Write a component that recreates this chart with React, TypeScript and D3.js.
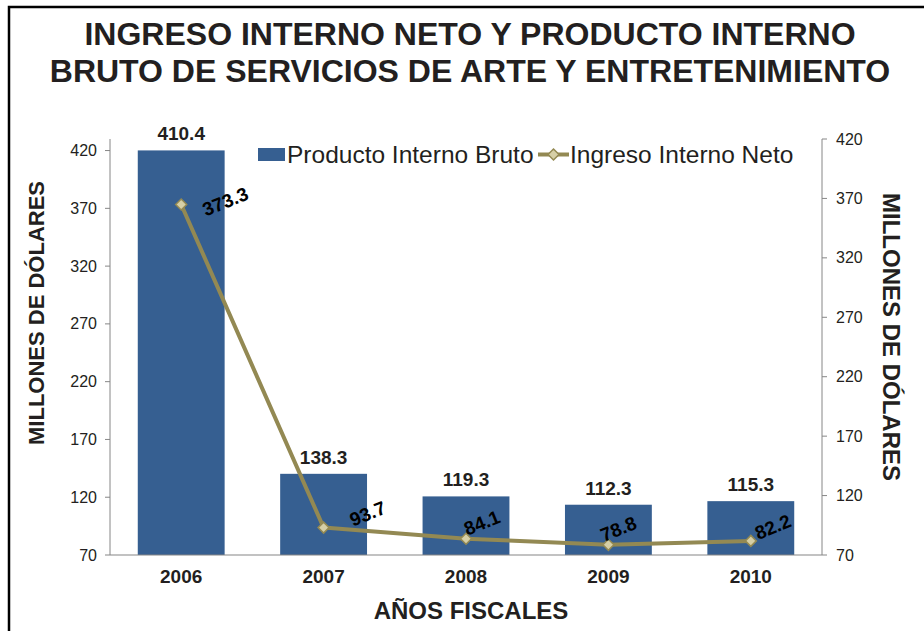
import React from "react";
import * as d3 from "d3";

const years = ["2006", "2007", "2008", "2009", "2010"];
const pibValues = [410.4, 138.3, 119.3, 112.3, 115.3];
const ingresoValues = [373.3, 93.7, 84.1, 78.8, 82.2];
const leftTicks = [70, 120, 170, 220, 270, 320, 370, 420];
const rightTicks = [70, 120, 170, 220, 270, 320, 370, 420];

const titleLines = [
  "INGRESO INTERNO NETO Y PRODUCTO INTERNO",
  "BRUTO DE SERVICIOS DE ARTE Y ENTRETENIMIENTO",
];
const yTitle = "MILLONES DE DÓLARES";
const xTitle = "AÑOS FISCALES";
const legendBar = "Producto Interno Bruto";
const legendLine = "Ingreso Interno Neto";

// label placement offsets (layout, in px) for line labels
const lineLabelOffsets: [number, number][] = [
  [44, -3],
  [44, -14],
  [16, -16],
  [10, -16],
  [22, -14],
];

const W = 924;
const H = 631;
const plotLeft = 110;
const plotRight = 822;
const plotTop = 139;
const plotBottom = 555;

const FONT = "'Liberation Sans', Arial, Helvetica, sans-serif";
const BAR = "#365F91";
const LINE = "#938953";
const MARK_FILL = "#D6CFA6";
const AXIS = "#868686";
const TEXT = "#231F20";

export default function App() {
  const x = d3.scaleBand<string>().domain(years).range([plotLeft, plotRight]).paddingInner(0.39).paddingOuter(0.195);
  const yLeft = d3.scaleLinear().domain([70, 430]).range([plotBottom, plotTop]);
  const yRight = d3.scaleLinear().domain([70, 420]).range([plotBottom, plotTop]);

  const line = d3
    .line<number>()
    .x((_, i) => (x(years[i]) as number) + x.bandwidth() / 2)
    .y((d) => yLeft(d));

  const diamond = (cx: number, cy: number, r: number) =>
    `M${cx},${cy - r}L${cx + r},${cy}L${cx},${cy + r}L${cx - r},${cy}Z`;

  return (
    <svg
      width={W}
      height={H}
      style={{ position: "absolute", left: 0, top: 0, background: "#fff" }}
      fontFamily={FONT}
    >
      <rect x={0} y={0} width={W} height={H} fill="#fff" />
      {/* frame */}
      <path d={`M9,${H + 10}V7H${W + 10}`} fill="none" stroke="#000" strokeWidth={2.5} />

      {/* title */}
      {titleLines.map((t, i) => (
        <text
          key={i}
          x={470}
          y={45 + i * 37}
          textAnchor="middle"
          fontSize={32}
          fontWeight="bold"
          fill={TEXT}
        >
          {t}
        </text>
      ))}

      {/* bars */}
      {pibValues.map((v, i) => (
        <rect
          key={i}
          x={x(years[i]) as number}
          y={yRight(v)}
          width={x.bandwidth()}
          height={plotBottom - yRight(v)}
          fill={BAR}
        />
      ))}
      {pibValues.map((v, i) => (
        <text
          key={"bl" + i}
          x={(x(years[i]) as number) + x.bandwidth() / 2}
          y={yRight(v) - 10}
          textAnchor="middle"
          fontSize={19}
          fontWeight="bold"
          fill={TEXT}
        >
          {v.toFixed(1)}
        </text>
      ))}

      {/* axes */}
      <line x1={plotLeft} x2={plotLeft} y1={plotTop} y2={plotBottom} stroke={AXIS} strokeWidth={1} />
      <line x1={plotRight} x2={plotRight} y1={plotTop} y2={plotBottom} stroke={AXIS} strokeWidth={1} />
      <line x1={plotLeft} x2={plotRight} y1={plotBottom} y2={plotBottom} stroke={AXIS} strokeWidth={1.2} />
      {leftTicks.map((t) => (
        <g key={"lt" + t}>
          <line x1={plotLeft - 5} x2={plotLeft} y1={yLeft(t)} y2={yLeft(t)} stroke={AXIS} />
          <text x={97} y={yLeft(t)} dy="0.35em" textAnchor="end" fontSize={16} fill={TEXT}>
            {t}
          </text>
        </g>
      ))}
      {rightTicks.map((t) => (
        <g key={"rt" + t}>
          <line x1={plotRight} x2={plotRight + 5} y1={yRight(t)} y2={yRight(t)} stroke={AXIS} />
          <text x={836} y={yRight(t)} dy="0.35em" textAnchor="start" fontSize={16} fill={TEXT}>
            {t}
          </text>
        </g>
      ))}
      {years.map((yr) => (
        <text
          key={"xt" + yr}
          x={(x(yr) as number) + x.bandwidth() / 2}
          y={583}
          textAnchor="middle"
          fontSize={19}
          fontWeight="bold"
          fill={TEXT}
        >
          {yr}
        </text>
      ))}

      {/* axis titles */}
      <text
        transform={`translate(36,313) rotate(-90)`}
        textAnchor="middle"
        dy="0.35em"
        fontSize={22}
        fontWeight="bold"
        fill={TEXT}
      >
        {yTitle}
      </text>
      <text
        transform={`translate(891,337) rotate(90)`}
        textAnchor="middle"
        dy="0.35em"
        fontSize={24}
        fontWeight="bold"
        fill={TEXT}
      >
        {yTitle}
      </text>
      <text x={471} y={619} textAnchor="middle" fontSize={24} fontWeight="bold" fill={TEXT}>
        {xTitle}
      </text>

      {/* line series */}
      <path d={line(ingresoValues) || ""} fill="none" stroke={LINE} strokeWidth={4} strokeLinejoin="round" />
      {ingresoValues.map((v, i) => {
        const cx = (x(years[i]) as number) + x.bandwidth() / 2;
        const cy = yLeft(v);
        return (
          <path key={"m" + i} d={diamond(cx, cy, 5.5)} fill={MARK_FILL} stroke={LINE} strokeWidth={1.5} />
        );
      })}
      {ingresoValues.map((v, i) => {
        const cx = (x(years[i]) as number) + x.bandwidth() / 2 + lineLabelOffsets[i][0];
        const cy = yLeft(v) + lineLabelOffsets[i][1];
        return (
          <text
            key={"ll" + i}
            transform={`translate(${cx},${cy}) rotate(-22)`}
            textAnchor="middle"
            dy="0.35em"
            fontSize={19}
            fontWeight="bold"
            fill="#000"
          >
            {v.toFixed(1)}
          </text>
        );
      })}

      {/* legend */}
      <rect x={258} y={148} width={27} height={13} fill={BAR} />
      <text x={287} y={162.5} fontSize={24.5} fill={TEXT}>
        {legendBar}
      </text>
      <line x1={538} x2={569} y1={154.5} y2={154.5} stroke={LINE} strokeWidth={4} />
      <path d={diamond(553.5, 154.5, 5.5)} fill={MARK_FILL} stroke={LINE} strokeWidth={1.5} />
      <text x={570} y={162.5} fontSize={24.5} fill={TEXT}>
        {legendLine}
      </text>
    </svg>
  );
}
